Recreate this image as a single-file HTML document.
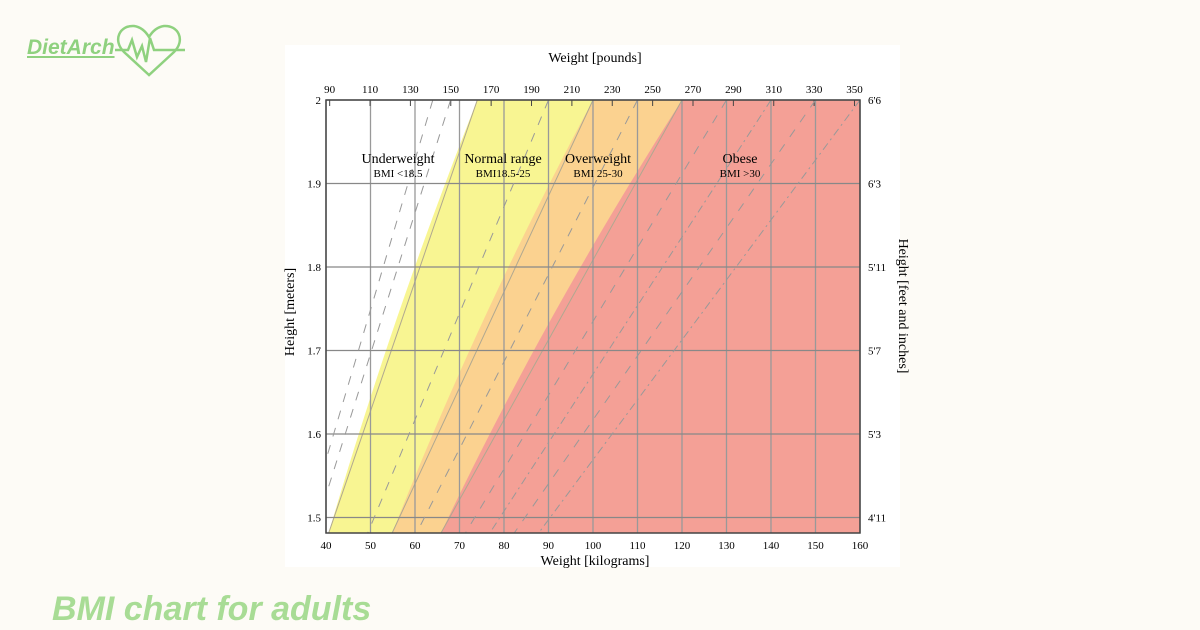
<!DOCTYPE html>
<html><head><meta charset="utf-8"><style>
body{margin:0;background:#fdfbf6;width:1200px;height:630px;overflow:hidden;position:relative;font-family:"Liberation Serif",serif}
#logo{position:absolute;left:27px;top:36px;font:italic bold 21px "Liberation Sans",sans-serif;color:#8fd17f;text-decoration:underline}
#title{position:absolute;left:52px;top:590px;font:italic bold 34px "Liberation Sans",sans-serif;color:#a8dc95}
</style></head><body>
<div id="logo">DietArch</div>
<svg style="position:absolute;left:110px;top:20px" width="80" height="60">
<path d="M39 55 L14 32 C2 20 10 5 24 6 C31 7 36 12 39 17 C42 12 47 7 54 6 C68 5 76 20 64 32 Z" fill="none" stroke="#8fd17f" stroke-width="2.5"/>
<polyline points="5,30 18,30 22,20 27,37 32,26 36,42 40,18 44,30 75,30" fill="none" stroke="#8fd17f" stroke-width="2.5"/>
</svg>
<div id="title">BMI chart for adults</div>
<svg id="c" width="1200" height="630" style="position:absolute;left:0;top:0"></svg>
<script>
const bmiBands=[18.5,25,30];
const bandColors=["#f8f592","#fbd290","#f4a096"];
const dashedBmi=[16,17,22.5,27.5,32.5,37.5];
const dashDotBmi=[35,40];
const kgTicks=[40,50,60,70,80,90,100,110,120,130,140,150,160];
const mTicks=[1.5,1.6,1.7,1.8,1.9,2];
const lbTicks=[90,110,130,150,170,190,210,230,250,270,290,310,330,350];
const ftLabels=["4'11","5'3","5'7","5'11","6'3","6'6"];
const X0=326,X1=860,Y0=100,Y1=533,hMin=2-(Y1-Y0)/835;
const x=kg=>X0+(kg-40)*(X1-X0)/120;
const y=h=>Y0+(2-h)*835;
const s=document.getElementById('c');const NS="http://www.w3.org/2000/svg";
function el(t,a,txt){const e=document.createElementNS(NS,t);for(const k in a)e.setAttribute(k,a[k]);if(txt!==undefined)e.textContent=txt;s.appendChild(e);return e;}
let bg=el('rect',{x:285,y:45,width:615,height:522,fill:'#ffffff'});


const cp=el('clipPath',{id:'cl'});const cr=document.createElementNS(NS,'rect');
cr.setAttribute('x',X0);cr.setAttribute('y',Y0);cr.setAttribute('width',X1-X0);cr.setAttribute('height',Y1-Y0);cp.appendChild(cr);
function bmiPts(b){return [[x(b*4),Y0],[x(b*hMin*hMin),Y1]];}
const bandNames=['band-normal','band-overweight','band-obese'];
bmiBands.forEach((b,i)=>{const hs=[];for(let k=0;k<=20;k++){const h=2-(2-hMin)*k/20;hs.push(x(b*h*h)+','+y(h));}
 const p=el('polygon',{points:hs.join(' ')+' 2000,'+Y1+' 2000,'+Y0,fill:bandColors[i],'clip-path':'url(#cl)'});
 
 
 const l=el('line',{x1:x(b*4),y1:Y0,x2:x(b*hMin*hMin),y2:Y1,stroke:'#b0a890','stroke-width':1,'clip-path':'url(#cl)'});
 
 });
kgTicks.forEach(k=>{const l=el('line',{x1:x(k),y1:Y0,x2:x(k),y2:Y1,stroke:'#999',"stroke-width":1.3});
 
 
 const t=el('text',{x:x(k),y:549,'text-anchor':'middle','font-size':11},k);
 
 });
mTicks.forEach((m,i)=>{const l=el('line',{x1:X0,y1:y(m),x2:X1,y2:y(m),stroke:'#888',"stroke-width":1.3});
 
 
 const t=el('text',{x:321,y:y(m)+4,'text-anchor':'end','font-size':11},m);
 
 
 const f=el('text',{x:868,y:y(m)+4,'font-size':11},ftLabels[i]);
 
 });
lbTicks.forEach(lb=>{const xx=x(lb*0.4536);
 const l=el('line',{x1:xx,y1:Y0,x2:xx,y2:Y0+6,stroke:'#444'});
 
 
 const t=el('text',{x:xx,y:93,'text-anchor':'middle','font-size':11},lb);
 
 });
dashedBmi.forEach(b=>{const [a,c]=bmiPts(b);const l=el('line',{x1:a[0],y1:a[1],x2:c[0],y2:c[1],stroke:'#999',"stroke-dasharray":'9,9','clip-path':'url(#cl)'});
 
 });
dashDotBmi.forEach(b=>{const [a,c]=bmiPts(b);const l=el('line',{x1:a[0],y1:a[1],x2:c[0],y2:c[1],stroke:'#999',"stroke-dasharray":'8,4,2,4','clip-path':'url(#cl)'});
 
 });
let fr=el('rect',{x:X0,y:Y0,width:X1-X0,height:Y1-Y0,fill:'none',stroke:'#444','stroke-width':1.5});


const labels=[["Underweight","BMI <18.5",398],["Normal range","BMI18.5-25",503],["Overweight","BMI 25-30",598],["Obese","BMI >30",740]];
labels.forEach(L=>{let t=el('text',{x:L[2],y:163,'text-anchor':'middle','font-size':14},L[0]);
 
 
 let u=el('text',{x:L[2],y:177,'text-anchor':'middle','font-size':11},L[1]);
 
 });
let a1=el('text',{x:595,y:62,'text-anchor':'middle','font-size':14},'Weight [pounds]');

let a2=el('text',{x:595,y:565,'text-anchor':'middle','font-size':14},'Weight [kilograms]');

let a3=el('text',{x:0,y:0,'text-anchor':'middle','font-size':14,transform:'translate(294,312) rotate(-90)'},'Height [meters]');

let a4=el('text',{x:0,y:0,'text-anchor':'middle','font-size':14,transform:'translate(899,306) rotate(90)'},'Height [feet and inches]');

</script>
</body></html>
